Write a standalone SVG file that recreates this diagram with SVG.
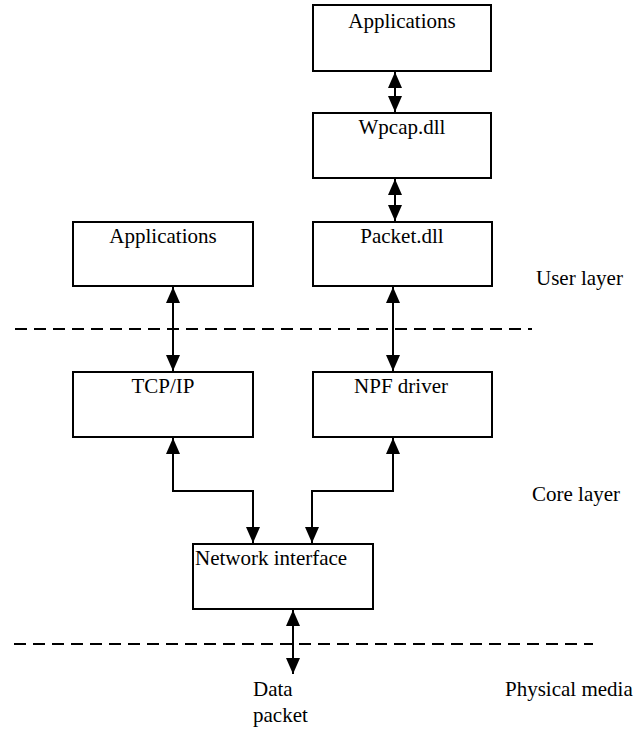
<svg xmlns="http://www.w3.org/2000/svg" width="641" height="729" viewBox="0 0 641 729">
<style>
.box{fill:#fff;stroke:#000;stroke-width:2}
.t{font-family:'Liberation Serif','Times New Roman',serif;font-size:21px;fill:#000}
.c{text-anchor:middle}
.con{fill:none;stroke:#000;stroke-width:2}
.dash{stroke:#000;stroke-width:2;stroke-dasharray:12 7}
</style>
<defs>
<marker id="ah" markerUnits="userSpaceOnUse" markerWidth="18" markerHeight="18" viewBox="0 0 18 18" refX="16" refY="9" orient="auto-start-reverse">
<path d="M0,2 L16,9 L0,16 Z" fill="#000"/>
</marker>
</defs>
<rect width="641" height="729" fill="#fff"/>
<g id="n-apps-top"><rect class="box" x="313" y="5" width="178" height="66"/><text class="t c" x="402" y="28">Applications</text></g>
<g id="n-wpcap"><rect class="box" x="313" y="113" width="178" height="65"/><text class="t c" x="402" y="134">Wpcap.dll</text></g>
<g id="n-packet"><rect class="box" x="313" y="222" width="179" height="64"/><text class="t c" x="402" y="243">Packet.dll</text></g>
<g id="n-apps-left"><rect class="box" x="73" y="222" width="180" height="64"/><text class="t c" x="163" y="243">Applications</text></g>
<g id="n-tcpip"><rect class="box" x="73" y="372" width="180" height="65"/><text class="t c" x="163" y="393">TCP/IP</text></g>
<g id="n-npf"><rect class="box" x="313" y="372" width="179" height="65"/><text class="t c" x="401" y="393">NPF driver</text></g>
<g id="n-netif"><rect class="box" x="193" y="544" width="180" height="65"/><text class="t" x="195" y="565">Network interface</text></g>
<g id="labels">
<text class="t" x="536" y="285">User layer</text>
<text class="t" x="532" y="501">Core layer</text>
<text class="t" x="505" y="696">Physical media</text>
<text class="t" x="253" y="696">Data</text>
<text class="t" x="253" y="722">packet</text>
</g>
<g id="dividers">
<line class="dash" x1="15" y1="329" x2="532" y2="329"/>
<line class="dash" x1="14" y1="644" x2="593" y2="644"/>
</g>
<g id="connectors">
<line class="con" x1="395" y1="72" x2="395" y2="112" marker-start="url(#ah)" marker-end="url(#ah)"/>
<line class="con" x1="395" y1="179" x2="395" y2="221" marker-start="url(#ah)" marker-end="url(#ah)"/>
<line class="con" x1="393" y1="287" x2="393" y2="371" marker-start="url(#ah)" marker-end="url(#ah)"/>
<line class="con" x1="173" y1="287" x2="173" y2="371" marker-start="url(#ah)" marker-end="url(#ah)"/>
<polyline class="con" points="173,438 173,491 253,491 253,543" marker-start="url(#ah)" marker-end="url(#ah)"/>
<polyline class="con" points="393,438 393,491 312,491 312,543" marker-start="url(#ah)" marker-end="url(#ah)"/>
<line class="con" x1="293" y1="610" x2="293" y2="674" marker-start="url(#ah)" marker-end="url(#ah)"/>
</g>
</svg>
